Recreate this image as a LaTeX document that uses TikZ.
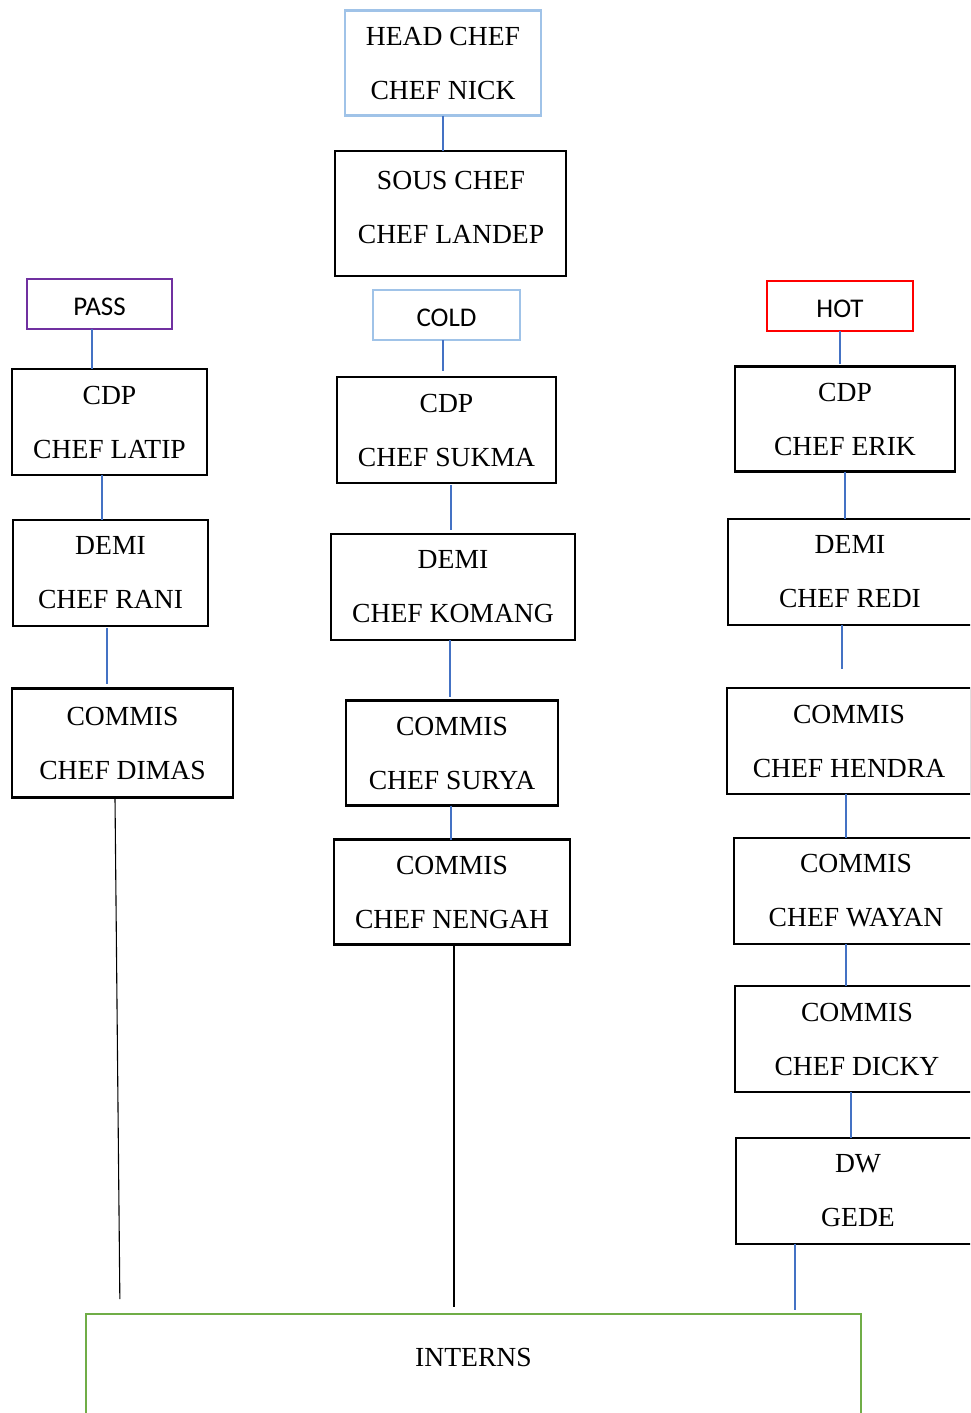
\documentclass[tikz,border=0pt]{standalone}
\usepackage{fontspec}
\setmainfont{Liberation Serif}
\newfontfamily\calibri{Carlito}
\definecolor{lblue}{RGB}{160,195,232}
\definecolor{cblue}{RGB}{68,114,196}
\definecolor{purp}{RGB}{112,48,160}
\definecolor{grn}{RGB}{112,173,71}
\tikzset{
  txt/.style={inner sep=0pt, outer sep=0pt, align=center, font=\fontsize{27.6}{54}\selectfont},
  box/.style={txt, draw=black, line width=2.8pt, rectangle},
  lbox/.style={box, draw=lblue, line width=2.6pt},
  sect/.style={draw, line width=2.6pt, rectangle, inner sep=0pt, outer sep=0pt, minimum width=146pt, minimum height=50pt, text height=23pt, text depth=0pt, font=\calibri\fontsize{27}{30}\selectfont},
  conn/.style={draw=cblue, line width=1.1pt},
  blk/.style={draw=black, line width=1.1pt},
}
\begin{document}
\begin{tikzpicture}[x=1pt,y=-1pt]
\useasboundingbox (0,0) rectangle (970,1413);
\clip (0,0) rectangle (970,1413);
% top
\node[lbox, minimum width=196pt, minimum height=105pt] (head) at (443,63) {HEAD CHEF\\CHEF NICK};
\node[box, minimum width=231pt, minimum height=125pt] (sous) at (450.5,213.5) {};
\node[txt] (soustext) at (451,207) {SOUS CHEF\\CHEF LANDEP};
% sections
\node[sect, draw=purp, minimum width=145pt] (pass) at (99.5,304) {PASS};
\node[sect, draw=lblue, minimum width=147pt] (cold) at (446.5,315) {COLD};
\node[sect, draw=red] (hot) at (840,306) {HOT};
% left column
\node[box, minimum width=195pt, minimum height=106pt] (latip) at (109.5,422) {CDP\\CHEF LATIP};
\node[box, minimum width=195pt, minimum height=106pt] (rani) at (110.5,573) {DEMI\\CHEF RANI};
\node[box, minimum width=221pt, minimum height=109pt] (dimas) at (122.5,743) {COMMIS\\CHEF DIMAS};
% middle column
\node[box, minimum width=219pt, minimum height=106pt] (sukma) at (446.5,430) {CDP\\CHEF SUKMA};
\node[box, minimum width=244pt, minimum height=106pt] (komang) at (453,587) {DEMI\\CHEF KOMANG};
\node[box, minimum width=212pt, minimum height=105pt] (surya) at (452,753) {COMMIS\\CHEF SURYA};
\node[box, minimum width=236pt, minimum height=105pt] (nengah) at (452,892) {COMMIS\\CHEF NENGAH};
% right column
\node[box, minimum width=220pt, minimum height=105pt] (erik) at (845,419) {CDP\\CHEF ERIK};
\node[box, minimum width=244pt, minimum height=106pt] (redi) at (850,572) {DEMI\\CHEF REDI};
\node[box, minimum width=244pt, minimum height=106pt] (hendra) at (849,741) {COMMIS\\CHEF HENDRA};
\node[box, minimum width=244pt, minimum height=106pt] (wayan) at (856,891) {COMMIS\\CHEF WAYAN};
\node[box, minimum width=244pt, minimum height=106pt] (dicky) at (857,1039) {COMMIS\\CHEF DICKY};
\node[box, minimum width=244pt, minimum height=106pt] (gede) at (858,1191) {DW\\GEDE};
% interns
\node[box, draw=grn, anchor=north, minimum width=775pt, minimum height=200pt] (interns) at (473.5,1314) {};
\node[txt] (internstext) at (473.5,1357) {INTERNS};
% connectors
\draw[conn] (head.south) -- (head.south |- sous.north);
\draw[conn] ([xshift=-7.5pt]pass.south) -- ([xshift=-7.5pt]pass.south |- latip.north);
\draw[conn, shorten >=6pt] ([xshift=-3.5pt]cold.south) -- ([xshift=-3.5pt]cold.south |- sukma.north);
\draw[conn, shorten >=3pt] (hot.south) -- (hot.south |- erik.north);
\draw[conn] ([xshift=-7.5pt]latip.south) -- ([xshift=-7.5pt]latip.south |- rani.north);
\draw[conn, shorten <=2pt, shorten >=5pt] ([xshift=-3.5pt]rani.south) -- ([xshift=-3.5pt]rani.south |- dimas.north);
\draw[conn, shorten <=2pt, shorten >=4pt] ([xshift=4.5pt]sukma.south) -- ([xshift=4.5pt]sukma.south |- komang.north);
\draw[conn, shorten >=4pt] ([xshift=-3pt]komang.south) -- ([xshift=-3pt]komang.south |- surya.north);
\draw[conn] ([xshift=-1pt]surya.south) -- ([xshift=-1pt]surya.south |- nengah.north);
\draw[conn] (erik.south) -- (erik.south |- redi.north);
\draw[conn, shorten >=19pt] ([xshift=-8pt]redi.south) -- ([xshift=-8pt]redi.south |- hendra.north);
\draw[conn] ([xshift=-3pt]hendra.south) -- ([xshift=-3pt]hendra.south |- wayan.north);
\draw[conn] ([xshift=-10pt]wayan.south) -- ([xshift=-10pt]wayan.south |- dicky.north);
\draw[conn] ([xshift=-6pt]dicky.south) -- ([xshift=-6pt]dicky.south |- gede.north);
\draw[conn, shorten >=4pt] ([xshift=-63pt]gede.south) -- ([xshift=-63pt]gede.south |- interns.north);
\draw[blk, shorten >=15pt] ([xshift=-7.5pt]dimas.south) -- ([xshift=-2.5pt]dimas.south |- interns.north);
\draw[blk, shorten >=7pt] ([xshift=2pt]nengah.south) -- ([xshift=2pt]nengah.south |- interns.north);
\end{tikzpicture}
\end{document}
